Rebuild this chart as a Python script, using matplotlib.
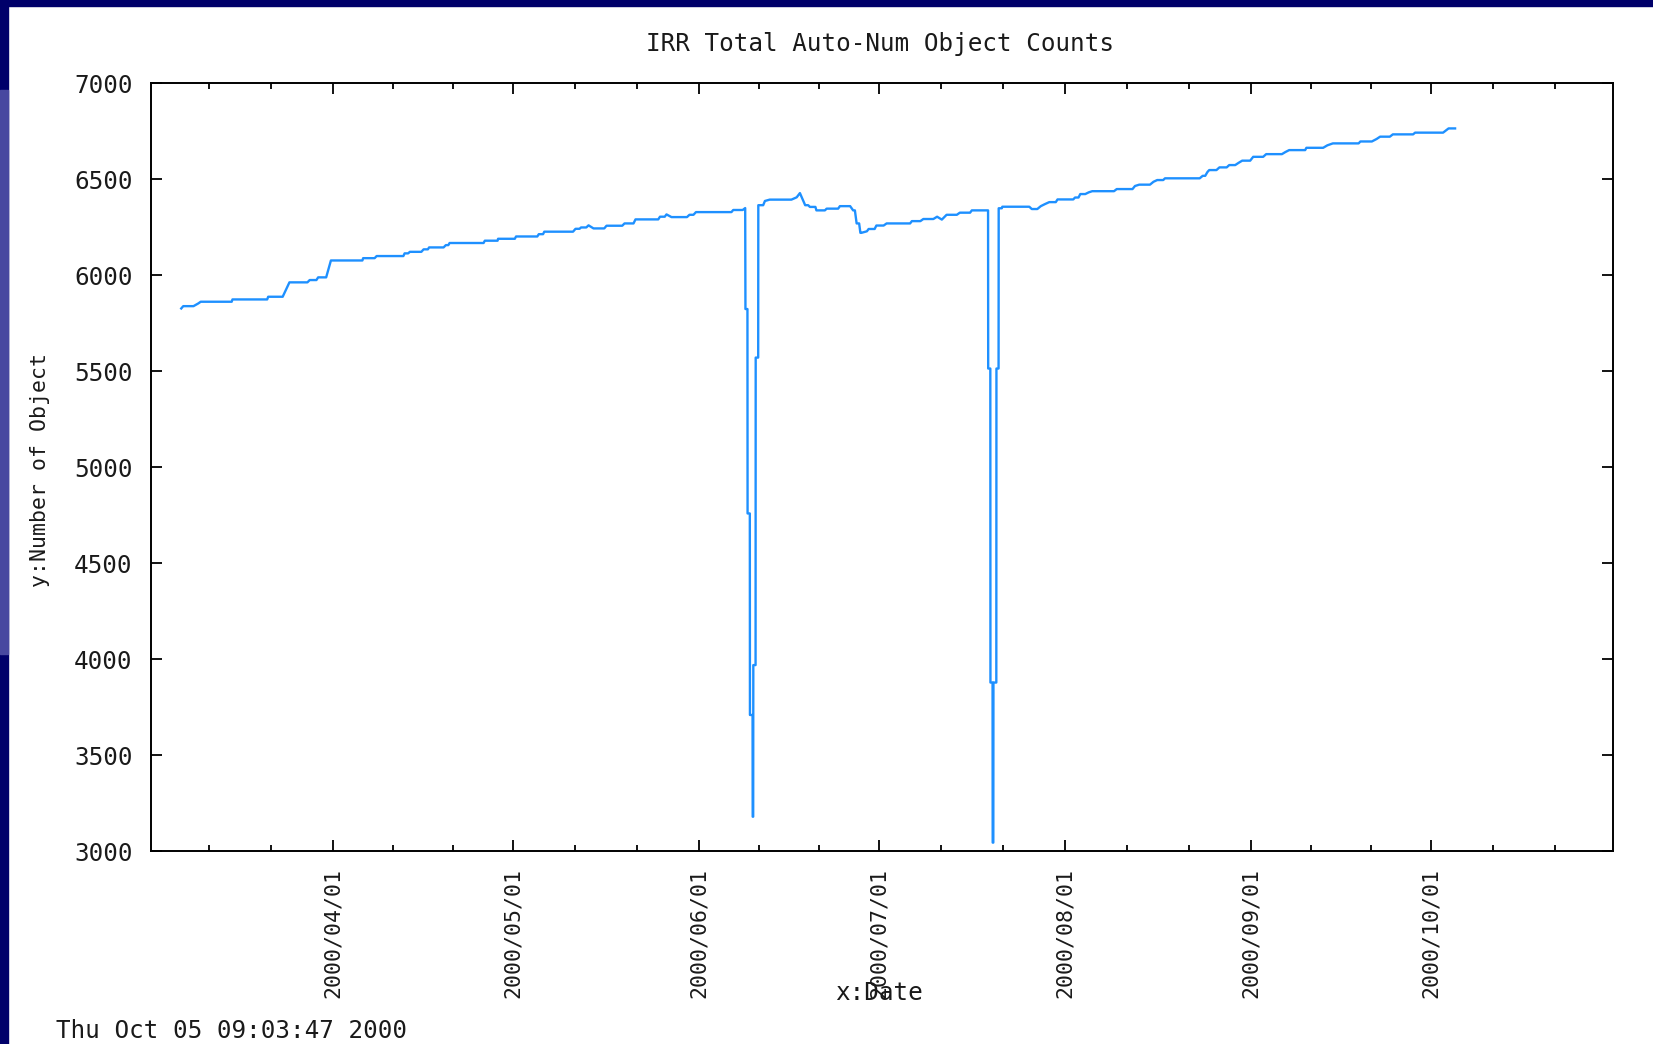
import numpy as np
import matplotlib
matplotlib.use('Agg')
import matplotlib.pyplot as plt
import matplotlib.dates as mdates
from matplotlib.patches import Rectangle
from matplotlib.ticker import FixedLocator, MultipleLocator

# daten (zeitpunkt, anzahl objekte)
dates = [
    '2000-03-06T16:00', '2000-03-07T00:00', '2000-03-08T17:00', '2000-03-09T12:00',
    '2000-03-09T22:00', '2000-03-15T02:00', '2000-03-15T05:00', '2000-03-21T00:00',
    '2000-03-21T04:00', '2000-03-23T14:00', '2000-03-24T17:00', '2000-03-27T17:00',
    '2000-03-28T02:00', '2000-03-29T05:00', '2000-03-29T12:00', '2000-03-30T20:00',
    '2000-03-31T15:00', '2000-04-05T21:00', '2000-04-06T00:00', '2000-04-07T22:00',
    '2000-04-08T06:00', '2000-04-12T17:00', '2000-04-12T22:00', '2000-04-13T12:00',
    '2000-04-13T19:00', '2000-04-15T17:00', '2000-04-16T02:00', '2000-04-16T19:00',
    '2000-04-17T00:00', '2000-04-19T10:00', '2000-04-19T19:00', '2000-04-20T05:00',
    '2000-04-20T10:00', '2000-04-26T02:00', '2000-04-26T07:00', '2000-04-28T10:00',
    '2000-04-28T12:00', '2000-05-01T07:00', '2000-05-01T12:00', '2000-05-05T01:00',
    '2000-05-05T07:00', '2000-05-06T00:00', '2000-05-06T05:00', '2000-05-11T00:00',
    '2000-05-11T10:00', '2000-05-12T02:00', '2000-05-12T08:00', '2000-05-13T05:00',
    '2000-05-13T14:00', '2000-05-14T10:00', '2000-05-16T05:00', '2000-05-16T14:00',
    '2000-05-19T05:00', '2000-05-19T14:00', '2000-05-21T02:00', '2000-05-21T10:00',
    '2000-05-25T05:00', '2000-05-25T12:00', '2000-05-26T07:00', '2000-05-26T14:00',
    '2000-05-27T10:00', '2000-05-30T00:00', '2000-05-30T10:00', '2000-05-31T02:00',
    '2000-05-31T12:00', '2000-06-06T10:00', '2000-06-06T17:00', '2000-06-08T07:00',
    '2000-06-08T17:00',
    # erster einbruch
    '2000-06-08T18:00', '2000-06-09T02:00', '2000-06-09T02:30', '2000-06-09T11:30',
    '2000-06-09T12:00', '2000-06-09T22:30', '2000-06-09T23:00', '2000-06-10T01:00',
    '2000-06-10T01:30', '2000-06-10T10:30', '2000-06-10T11:00', '2000-06-10T21:00',
    '2000-06-10T21:30',
    '2000-06-11T17:00', '2000-06-12T00:00', '2000-06-12T19:00', '2000-06-16T10:00',
    '2000-06-17T07:00', '2000-06-17T20:00', '2000-06-18T17:00', '2000-06-19T05:00',
    '2000-06-19T12:00', '2000-06-20T10:00', '2000-06-20T14:00', '2000-06-22T00:00',
    '2000-06-22T07:00', '2000-06-24T05:00', '2000-06-24T12:00', '2000-06-26T05:00',
    '2000-06-26T17:00', '2000-06-27T00:00', '2000-06-27T07:00', '2000-06-27T17:00',
    '2000-06-27T22:00', '2000-06-28T02:00', '2000-06-29T00:00', '2000-06-29T07:00',
    '2000-06-30T07:00', '2000-06-30T14:00', '2000-07-01T19:00', '2000-07-02T07:00',
    '2000-07-06T05:00', '2000-07-06T12:00', '2000-07-07T22:00', '2000-07-08T10:00',
    '2000-07-10T02:00', '2000-07-10T17:00', '2000-07-11T12:00', '2000-07-12T07:00',
    '2000-07-14T00:00', '2000-07-14T12:00', '2000-07-16T05:00', '2000-07-16T12:00',
    '2000-07-19T05:00',
    # zweiter einbruch
    '2000-07-19T05:30', '2000-07-19T14:00', '2000-07-19T14:30', '2000-07-19T23:00',
    '2000-07-19T23:30', '2000-07-20T02:00', '2000-07-20T02:30', '2000-07-20T14:00',
    '2000-07-20T14:30', '2000-07-20T23:00', '2000-07-20T23:30',
    '2000-07-21T12:00',
    '2000-07-21T14:00', '2000-07-26T02:00', '2000-07-26T12:00', '2000-07-27T10:00',
    '2000-07-28T00:00', '2000-07-28T17:00', '2000-07-29T10:00', '2000-07-30T12:00',
    '2000-07-30T19:00', '2000-08-02T10:00', '2000-08-02T17:00', '2000-08-03T07:00',
    '2000-08-03T14:00', '2000-08-04T10:00', '2000-08-05T00:00', '2000-08-05T14:00',
    '2000-08-09T05:00', '2000-08-09T16:00', '2000-08-12T07:00', '2000-08-12T17:00',
    '2000-08-13T10:00', '2000-08-15T05:00', '2000-08-15T19:00', '2000-08-16T10:00',
    '2000-08-17T10:00', '2000-08-17T17:00', '2000-08-23T12:00', '2000-08-24T00:00',
    '2000-08-24T10:00', '2000-08-24T19:00', '2000-08-25T02:00', '2000-08-26T07:00',
    '2000-08-26T19:00', '2000-08-28T00:00', '2000-08-28T10:00', '2000-08-29T10:00',
    '2000-08-30T00:00', '2000-08-30T14:00', '2000-08-31T22:00', '2000-09-01T10:00',
    '2000-09-03T02:00', '2000-09-03T14:00', '2000-09-06T05:00', '2000-09-06T19:00',
    '2000-09-07T10:00', '2000-09-10T02:00', '2000-09-10T07:00', '2000-09-13T02:00',
    '2000-09-13T19:00', '2000-09-14T17:00', '2000-09-19T00:00', '2000-09-19T07:00',
    '2000-09-21T05:00', '2000-09-22T00:00', '2000-09-22T14:00', '2000-09-24T05:00',
    '2000-09-24T17:00', '2000-09-28T02:00', '2000-09-28T10:00', '2000-10-03T02:00',
    '2000-10-03T12:00', '2000-10-04T00:00', '2000-10-05T02:00',
]
counts = [
    5827, 5839, 5839, 5853,
    5862, 5862, 5874, 5874,
    5888, 5888, 5963, 5963,
    5975, 5975, 5989, 5989,
    6077, 6077, 6089, 6089,
    6100, 6100, 6114, 6114,
    6122, 6122, 6135, 6135,
    6145, 6145, 6157, 6157,
    6168, 6168, 6180, 6180,
    6190, 6190, 6202, 6202,
    6214, 6214, 6227, 6227,
    6242, 6242, 6249, 6249,
    6260, 6244, 6244, 6258,
    6258, 6270, 6270, 6291,
    6291, 6305, 6305, 6317,
    6303, 6303, 6315, 6315,
    6329, 6329, 6340, 6340,
    6350,
    5824, 5824, 4759, 4759,
    3709, 3709, 3179, 3179,
    3969, 3969, 5571, 5571,
    6365,
    6365, 6387, 6394, 6394,
    6406, 6428, 6365, 6365,
    6356, 6356, 6338, 6338,
    6347, 6347, 6360, 6360,
    6338, 6338, 6270, 6270,
    6221, 6221, 6229, 6241,
    6241, 6259, 6259, 6270,
    6270, 6282, 6282, 6293,
    6293, 6305, 6290, 6315,
    6315, 6326, 6326, 6338,
    6338,
    5514, 5514, 3878, 3878,
    3044, 3044, 3878, 3878,
    5514, 5514, 6349,
    6349,
    6357, 6357, 6345, 6345,
    6360, 6371, 6381, 6381,
    6395, 6395, 6405, 6405,
    6423, 6423, 6432, 6438,
    6438, 6449, 6449, 6465,
    6472, 6472, 6487, 6496,
    6496, 6505, 6505, 6518,
    6518, 6538, 6548, 6548,
    6562, 6562, 6574, 6574,
    6586, 6597, 6597, 6617,
    6617, 6631, 6631, 6642,
    6652, 6652, 6664, 6664,
    6677, 6687, 6687, 6697,
    6697, 6710, 6722, 6722,
    6734, 6734, 6743, 6743,
    6753, 6765, 6765,
]

title = 'IRR Total Auto-Num Object Counts'
xlabel = 'x:Date'
ylabel = 'y:Number of Object'
stamp = 'Thu Oct 05 09:03:47 2000'

t = np.array(dates, dtype='datetime64[m]')

plt.rcParams['font.family'] = ['DejaVu Sans Mono', 'DejaVu Sans']

fig = plt.figure(figsize=(16.53, 10.44), dpi=100)
fig.patch.set_facecolor('white')

# dunkelblauer folienrand oben und links
fig.add_artist(Rectangle((0, 1 - 6 / 1044), 1, 6 / 1044, transform=fig.transFigure,
                         color='#00006a', zorder=0))
fig.add_artist(Rectangle((0, 0), 8 / 1653, 1, transform=fig.transFigure,
                         color='#00006a', zorder=0))
fig.add_artist(Rectangle((0, 1 - 654 / 1044), 8 / 1653, (654 - 90) / 1044,
                         transform=fig.transFigure, color='#4848a0', zorder=0))

ax = fig.add_axes([0.0912, 0.1848, 0.8846, 0.7354])
ax.plot(t, counts, color='#1e90ff', lw=1.7)

ax.set_xlim(np.datetime64('2000-03-01T14:00'), np.datetime64('2000-10-31T10:00'))
ax.set_ylim(3000, 7000)
ax.yaxis.set_major_locator(MultipleLocator(500))

ax.xaxis.set_major_locator(mdates.MonthLocator(bymonthday=1))
ax.xaxis.set_major_formatter(mdates.DateFormatter('%Y/%m/%d'))
months = mdates.date2num(np.arange('2000-02', '2001-01', dtype='datetime64[M]').astype('datetime64[D]'))
minor = []
for a, b in zip(months[:-1], months[1:]):
    minor += [a + (b - a) / 3, a + 2 * (b - a) / 3]
ax.xaxis.set_minor_locator(FixedLocator(minor))

for s in ax.spines.values():
    s.set_linewidth(1.4)
ax.tick_params(which='both', direction='in', top=True, right=True, width=1.3, colors='black')
ax.tick_params(which='major', length=8)
ax.tick_params(which='minor', length=4.5)
ax.tick_params(axis='y', pad=13, labelsize=17.5, labelcolor='#1a1a1a')
ax.tick_params(axis='x', pad=12, labelsize=15.5, labelrotation=90, labelcolor='#1a1a1a')

fig.text(0.5325, 0.9576, title, ha='center', va='center', fontsize=17.5, color='#1a1a1a')
fig.text(0.0242, 0.5495, ylabel, ha='center', va='center', rotation=90, fontsize=15.5, color='#1a1a1a')
fig.text(0.532, 0.0485, xlabel, ha='center', va='center', fontsize=17.5, color='#1a1a1a')
fig.text(0.0338, 0.0121, stamp, ha='left', va='center', fontsize=17.5, color='#1a1a1a')

fig.savefig('out.png', dpi=100)
